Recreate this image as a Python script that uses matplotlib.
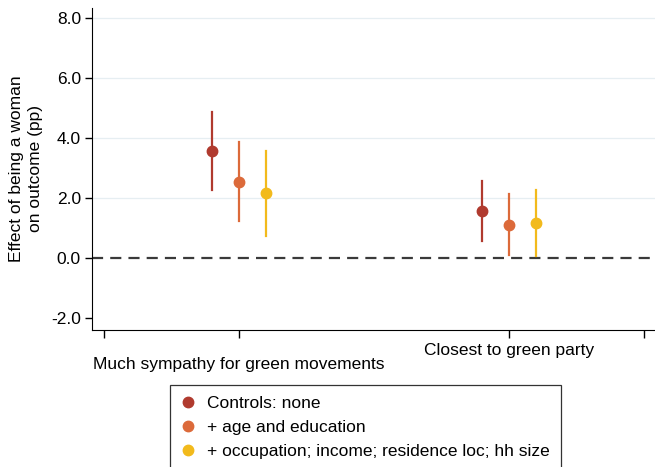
import numpy as np
import matplotlib.pyplot as plt

# coefficient estimates with 95% CIs, one row per outcome
outcomes = ["Much sympathy for green movements", "Closest to green party"]
models = ["Controls: none", "+ age and education",
          "+ occupation; income; residence loc; hh size"]
est = [[3.57, 2.53, 2.15],
       [1.55, 1.10, 1.18]]
lo = [[2.26, 1.23, 0.73],
      [0.55, 0.09, 0.07]]
hi = [[4.87, 3.85, 3.57],
      [2.55, 2.12, 2.27]]
colors = ["#B03A2E", "#DC6A3A", "#F2BA1C"]

xpos = [1, 3]
offsets = [-0.2, 0.0, 0.2]

plt.rcParams['font.family'] = ['Liberation Sans', 'DejaVu Sans']
fs = 12.5

fig = plt.figure(figsize=(6.55, 4.67), dpi=100)
ax = fig.add_axes([92/655, 1-330/467, 1-92/655, (330-8)/467])

for gi in range(len(outcomes)):
    for mi in range(len(models)):
        x = xpos[gi] + offsets[mi]
        ax.plot([x, x], [lo[gi][mi], hi[gi][mi]], color=colors[mi], lw=1.6, zorder=3)
        ax.plot(x, est[gi][mi], "o", color=colors[mi], ms=7.5, zorder=4,
                label=models[mi] if gi == 0 else None)

ax.axhline(0, color="#3a3a3a", lw=1.6, ls=(0, (5, 3.2)), zorder=2)
for yv in [2, 4, 6, 8]:
    ax.axhline(yv, color="#e6eef2", lw=0.9, zorder=1)

ax.set_ylim(-2.4, 8.33)
ax.set_xlim(-0.09, 4.08)
ax.set_yticks([-2, 0, 2, 4, 6, 8])
ax.set_yticklabels(["-2.0", "0.0", "2.0", "4.0", "6.0", "8.0"], fontsize=fs)
ax.set_xticks([0, 1, 3, 4])
ax.set_xticklabels(["", "\n" + outcomes[0], outcomes[1], ""], fontsize=fs,
                   linespacing=1.0)
ax.tick_params(axis="x", length=6, width=1, pad=3)
ax.tick_params(axis="y", length=5, width=1, pad=3)
ax.spines["top"].set_visible(False)
ax.spines["right"].set_visible(False)
ax.set_ylabel("Effect of being a woman\non outcome (pp)", fontsize=fs, labelpad=6,
              linespacing=1.3)

leg = fig.legend(loc="upper left", bbox_to_anchor=(170/655, 1-385/467),
                 fontsize=fs, frameon=True, fancybox=False, edgecolor="black",
                 handlelength=0.8, handletextpad=0.7, borderpad=0.65,
                 labelspacing=0.5, borderaxespad=0.0)
leg.get_frame().set_linewidth(0.9)

fig.savefig("out.png", dpi=100)
